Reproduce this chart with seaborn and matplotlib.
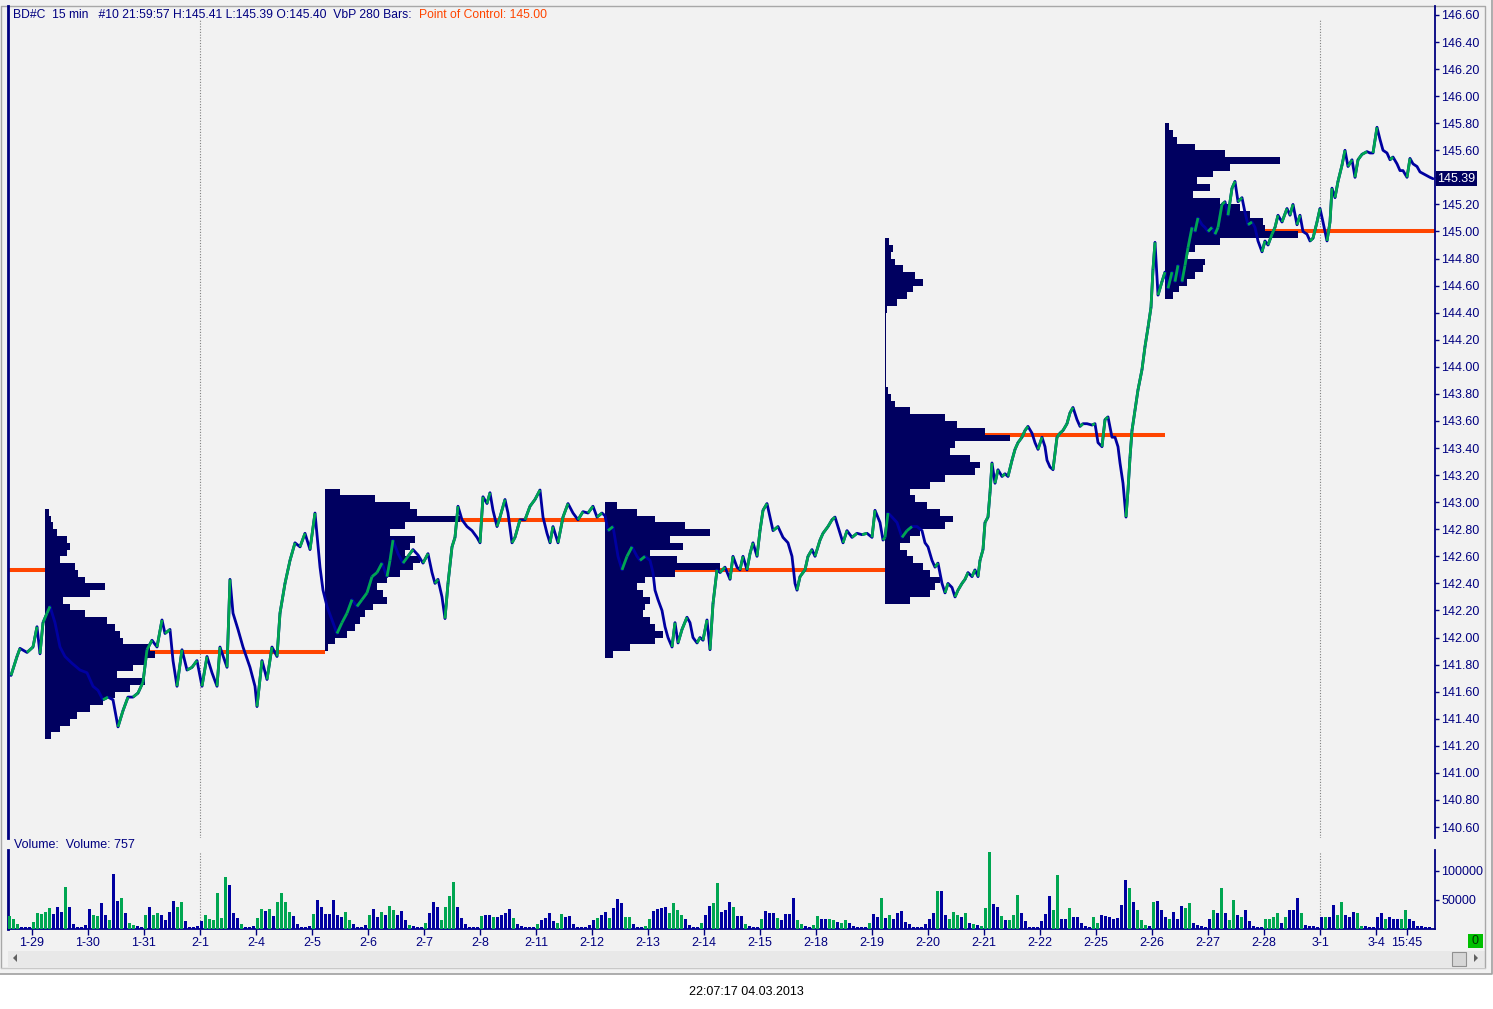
import numpy as np
import matplotlib
matplotlib.use("Agg")
import matplotlib.pyplot as plt
import matplotlib.transforms as mtransforms
from matplotlib.collections import LineCollection
from matplotlib.patches import Rectangle, Polygon
import seaborn as sns

# ---------------- data ----------------
header_text = "BD#C  15 min   #10 21:59:57 H:145.41 L:145.39 O:145.40  VbP 280 Bars:"
poc_text = "Point of Control: 145.00"
volume_text = "Volume:  Volume: 757"
stamp_text = "22:07:17 04.03.2013"
last_price = 145.39
last_label = "145.39"

day_labels = ["1-29", "1-30", "1-31", "2-1", "2-4", "2-5", "2-6", "2-7", "2-8",
              "2-11", "2-12", "2-13", "2-14", "2-15", "2-18", "2-19", "2-20",
              "2-21", "2-22", "2-25", "2-26", "2-27", "2-28", "3-1", "3-4"]
time_label = "15:45"

# 15-minute bar number -> close
price_bar = [3, 9, 12, 19, 25, 29, 32, 35, 39, 42, 47, 52, 57, 64, 72, 79, 85, 90, 95, 100,
             105, 110, 115, 120, 125, 130, 135, 139, 144, 149, 154, 157, 162, 165, 169, 174,
             179, 184, 189, 194, 199, 204, 209, 212, 219, 222, 225, 230, 235, 242, 247, 249,
             254, 259, 264, 269, 272, 277, 282, 287, 292, 297, 302, 307, 312, 315,
             319, 324, 329, 334, 339, 344, 349, 354, 359, 364, 369, 374, 379, 382, 385, 390,
             395, 400, 405, 410, 415, 420, 424, 427, 430, 434, 437, 440, 444, 447, 450, 454,
             459, 464, 469, 472, 475, 479, 482, 485, 489, 492, 497, 500, 504, 507, 512, 517,
             522, 527, 532, 535, 539, 542, 545, 550, 555, 560, 565, 570, 575, 580, 585, 589, 594,
             597, 600, 605, 610, 614, 619, 624, 629, 632, 637, 642, 645, 647, 650, 654, 657,
             660, 664, 667, 670, 674, 679, 682, 685, 689, 692, 695, 699, 702, 705, 709, 712,
             717, 722, 725, 729, 732, 735, 739, 742, 745, 749, 752, 755, 759, 762, 765, 770,
             775, 780, 784, 787, 789, 792, 797, 800, 804, 807, 812, 815, 820, 824, 827, 832,
             835, 839, 844, 849, 854, 859, 864, 867, 872, 875,
             877, 880, 884, 889, 894, 899, 904, 909, 914, 917, 920, 924, 927, 930, 934, 937,
             940, 944, 947, 950, 954, 957, 960, 964, 967, 970, 972, 975, 977, 980, 982, 984,
             987, 990, 994, 997, 1000, 1004, 1007, 1010, 1014, 1017, 1020, 1024, 1027, 1030,
             1034, 1037, 1039, 1042, 1045, 1049, 1052, 1055, 1059, 1062, 1065, 1069, 1072,
             1075, 1079, 1084, 1087, 1090, 1094, 1097, 1100, 1104, 1107, 1110, 1112, 1115,
             1118, 1120, 1122, 1124, 1127, 1130, 1134, 1137, 1140, 1143, 1145, 1147, 1150,
             1154, 1157, 1160, 1164, 1167, 1170, 1174, 1177, 1180, 1184, 1187, 1190, 1194,
             1197, 1200, 1204, 1207, 1210, 1214, 1217, 1220, 1224, 1227, 1230, 1234, 1237,
             1240, 1244, 1247, 1250, 1254, 1257, 1260, 1264, 1267, 1270, 1274, 1279, 1282,
             1285, 1289, 1292, 1295, 1299, 1302, 1305, 1309, 1312, 1315, 1319, 1322, 1324,
             1327, 1330, 1334, 1337, 1340, 1344, 1347, 1350, 1354, 1359, 1362, 1365, 1369,
             1372, 1375, 1379, 1382, 1385, 1389, 1392, 1395, 1399, 1402, 1405, 1409, 1412,
             1417, 1422, 1425]
price_close = [141.72, 141.86, 141.92, 141.89, 141.93, 142.08, 141.88, 142.11, 142.18, 142.23,
               142.11, 141.93, 141.86, 141.81, 141.76, 141.74, 141.64, 141.61, 141.54, 141.56,
               141.54, 141.34, 141.46, 141.56, 141.56, 141.59, 141.67, 141.91, 141.98, 141.93,
               142.13, 142.03, 142.06, 141.83, 141.64, 141.91, 141.76, 141.78, 141.83, 141.64,
               141.86, 141.74, 141.64, 141.93, 141.78, 142.43, 142.18, 142.06, 141.93, 141.78,
               141.64, 141.49, 141.83, 141.69, 141.93, 141.86, 142.18, 142.40, 142.57, 142.70,
               142.67, 142.77, 142.65, 142.92, 142.52, 142.35,
               142.23, 142.13, 142.03, 142.11, 142.18, 142.28, 142.23, 142.28, 142.33, 142.45,
               142.48, 142.55, 142.45, 142.57, 142.72, 142.62, 142.55, 142.60, 142.65, 142.61,
               142.55, 142.62, 142.48, 142.40, 142.43, 142.30, 142.14, 142.40, 142.67, 142.74,
               142.97, 142.87, 142.82, 142.79, 142.74, 142.70, 143.04, 142.99, 143.07, 142.94,
               142.82, 142.89, 143.02, 142.92, 142.70, 142.74, 142.87, 142.87, 142.97, 143.02,
               143.09, 142.89, 142.77, 142.70, 142.82, 142.70, 142.89, 142.99, 142.92, 142.87,
               142.93, 142.92, 142.97, 142.89, 142.92,
               142.90, 142.79, 142.82, 142.60, 142.50, 142.60, 142.67, 142.60, 142.57, 142.60,
               142.57, 142.48, 142.35, 142.28, 142.20, 142.08, 142.00, 141.93, 142.11, 141.96,
               142.06, 142.15, 142.11, 142.00, 141.96, 142.00, 141.98, 142.13, 141.91, 142.25,
               142.50, 142.48, 142.52, 142.43, 142.60, 142.52, 142.50, 142.60, 142.50, 142.62,
               142.70, 142.60, 142.79, 142.94, 142.99, 142.89, 142.79, 142.82, 142.74, 142.70,
               142.60, 142.40, 142.35, 142.45, 142.50, 142.60, 142.65, 142.60, 142.72, 142.77,
               142.82, 142.87, 142.89, 142.77, 142.70, 142.79, 142.74, 142.77, 142.76, 142.77,
               142.74, 142.94, 142.85, 142.72,
               142.74, 142.92, 142.89, 142.85, 142.74, 142.79, 142.82, 142.82, 142.79, 142.70,
               142.67, 142.57, 142.52, 142.55, 142.40, 142.33, 142.40, 142.37, 142.30, 142.35,
               142.40, 142.43, 142.48, 142.45, 142.50, 142.45, 142.57, 142.65, 142.85, 142.89,
               143.07, 143.29, 143.14, 143.24, 143.19, 143.21, 143.19, 143.31, 143.39, 143.44,
               143.48, 143.53, 143.56, 143.51, 143.44, 143.39, 143.48, 143.41, 143.31, 143.26,
               143.24, 143.48, 143.51, 143.53, 143.58, 143.66, 143.70, 143.61, 143.56, 143.58,
               143.58, 143.57, 143.58, 143.44, 143.41, 143.61, 143.63, 143.48, 143.48, 143.41,
               143.29, 143.14, 142.89, 143.09, 143.33, 143.53, 143.68, 143.83, 143.98, 144.15,
               144.29, 144.44, 144.72, 144.92, 144.53,
               144.63, 144.70, 144.58, 144.70, 144.63, 144.75, 144.63, 144.75, 144.88, 145.03,
               145.00, 145.10, 145.05, 145.03, 145.00, 145.03, 144.98, 145.03, 145.20, 145.22,
               145.12, 145.32, 145.37, 145.22, 145.25, 145.14, 145.05, 145.07, 145.03, 144.93,
               144.85, 144.93, 144.90, 144.98, 145.03, 145.12, 145.07, 145.17, 145.12, 145.20,
               145.05, 145.12, 145.00, 144.98, 144.93, 144.95, 145.07, 145.17, 145.07, 144.93,
               145.07, 145.32, 145.25, 145.37, 145.49, 145.60, 145.48, 145.53, 145.40, 145.53,
               145.57, 145.59, 145.58, 145.58, 145.77, 145.68, 145.60, 145.58, 145.53, 145.55,
               145.50, 145.45, 145.45, 145.40, 145.54, 145.50, 145.48, 145.44, 145.42, 145.40,
               145.39]

# volume in thousands, one value per 4 bars; g = up bar, b = down bar
volume_k = [22, 17, 9, 4, 3, 3, 12, 28, 26, 29, 36, 26, 38, 29,
            72, 38, 9, 3, 3, 7, 34, 24, 22, 45, 24, 15, 95, 48,
            53, 28, 10, 7, 6, 4, 24, 38, 24, 28, 24, 15, 29, 48,
            38, 46, 14, 4, 3, 5, 14, 24, 17, 15, 62, 19, 90, 76,
            28, 19, 9, 3, 3, 5, 19, 34, 31, 34, 22, 46, 62, 46,
            29, 22, 9, 3, 3, 5, 26, 50, 38, 26, 26, 50, 24, 21,
            29, 15, 9, 3, 3, 7, 24, 34, 21, 29, 24, 40, 33, 24,
            31, 15, 7, 5, 3, 3, 10, 28, 46, 38, 15, 38, 57, 81,
            38, 19, 9, 3, 3, 3, 22, 24, 24, 21, 21, 24, 27, 34,
            19, 8, 5, 3, 3, 3, 9, 15, 19, 27, 14, 10, 25, 21,
            23, 8, 3, 3, 3, 7, 15, 19, 24, 29, 19, 36, 52, 44,
            21, 21, 8, 4, 3, 5, 17, 31, 34, 37, 38, 27, 44, 33,
            24, 17, 7, 3, 3, 11, 24, 40, 44, 79, 30, 33, 46, 38,
            23, 23, 8, 5, 4, 3, 18, 31, 27, 27, 19, 15, 25, 25,
            54, 15, 8, 5, 4, 7, 22, 17, 18, 18, 15, 12, 11, 16,
            10, 6, 4, 3, 3, 10, 25, 21, 53, 19, 24, 18, 27, 31,
            12, 8, 4, 4, 4, 8, 17, 27, 66, 66, 24, 18, 30, 24,
            21, 27, 11, 8, 7, 6, 36, 133, 43, 38, 22, 15, 15, 24,
            59, 27, 13, 4, 3, 3, 13, 26, 57, 33, 93, 18, 18, 36,
            21, 20, 10, 5, 3, 20, 10, 24, 23, 20, 18, 19, 41, 85,
            70, 47, 33, 15, 7, 5, 47, 48, 33, 21, 18, 30, 18, 40,
            36, 45, 10, 7, 5, 4, 18, 32, 27, 70, 27, 15, 50, 24,
            21, 33, 14, 5, 4, 4, 17, 18, 20, 27, 10, 21, 32, 32,
            53, 27, 7, 5, 5, 4, 21, 21, 21, 41, 24, 47, 24, 21,
            30, 28, 5, 5, 4, 3, 20, 27, 17, 20, 17, 18, 18, 33,
            17, 13, 5, 5, 4, 4]
volume_dir = ("gggbbbgggggbbb" "gbbbbbbggbbgbb" "gbggbbgbggbbbb" "ggbbbbbggggggb"
              "bbgbbbggbgbggg" "gbbbbbgbbbbbbb" "ggbbbbgbbgbggb" "bbgbbbgbbbgggg"
              "bbbbbbgbbgbbbb" "gbbbbbgbbbbggb" "bbbbbbbgbbgbbb" "ggbbbggbbbbggg"
              "gbbbbgbbggbbbg" "bbgbbbgbbbgbbb" "bggbbggbbggbgg" "bbbbbgbbgbgbbb"
              "bbbbbbbbgbbggg" "bgbgbgggbbgbgg" "gbbbbbbbbggbbg" "bbbbbggbbbbbbb"
              "gbgggbgbbbgbbb" "ggbbbbbgbgbggb" "gbbbbbggggbgbb" "bgbbbbbgbbggbb"
              "bggbbbbbgbbbgg" "bbbbbb")

# volume-by-price profiles (280 bars each): top price, widths per 0.05 from the top down
vbp_tops = [142.95, 143.10, 143.00, 144.95, 145.80]
vbp_1 = [4, 6, 8, 12, 22, 25, 22, 15, 30, 33, 40, 60, 45, 18, 25, 40, 62, 70, 75, 78,
         105, 110, 100, 88, 72, 100, 85, 70, 58, 45, 32, 25, 15, 6]
vbp_2 = [15, 50, 85, 92, 135, 80, 65, 90, 85, 80, 95, 88, 75, 62, 52, 58, 62, 48, 40, 35,
         30, 22, 10, 3]
vbp_3 = [12, 32, 50, 80, 105, 65, 78, 45, 72, 115, 70, 40, 32, 38, 45, 40, 38, 45, 50, 58,
         50, 25, 8]
vbp_4 = [4, 8, 6, 10, 18, 30, 38, 28, 22, 12, 2, 1, 1, 1, 1, 1, 1, 1, 1, 1, 1, 1,
         3, 6, 10, 25, 60, 72, 100, 125, 70, 65, 85, 95, 90, 60, 45, 25, 30, 42, 55, 68,
         60, 35, 25, 15, 22, 28, 38, 45, 55, 50, 45, 25]
vbp_5 = [4, 8, 12, 30, 60, 115, 65, 48, 32, 45, 28, 55, 75, 85, 98, 100, 133, 55, 30, 22,
         40, 38, 30, 22, 14, 8]
vbp_widths = [vbp_1, vbp_2, vbp_3, vbp_4, vbp_5]
poc_prior = 142.50
poc_prices = [141.89, 142.87, 142.50, 143.50, 145.00]

# ---------------- layout / style ----------------
W, H = 1493, 1009
NAVY = "#000080"
PROFILE = "#000060"
DOWN = "#0000a0"
UP = "#00a651"
POC = "#ff4500"
BG = "#f2f2f2"
FONT = ["Liberation Sans", "DejaVu Sans"]

sns.set_style("white")
plt.rcParams["font.family"] = FONT

bars_per_day = 56
first_day_bar = 24
vbp_len = 280
vbp_first = 37
n_bars = 1427
vol_step = 4


def px_rect(x0, y0, x1, y1):
    return [x0 / W, 1 - y1 / H, (x1 - x0) / W, (y1 - y0) / H]


fig = plt.figure(figsize=(W / 100, H / 100), dpi=100, facecolor="white")

# window chrome drawn in pixel coordinates
bg = fig.add_axes([0, 0, 1, 1])
bg.set_xlim(0, W)
bg.set_ylim(H, 0)
bg.axis("off")
bg.add_patch(Rectangle((0, 0), 1492, 974, fc=BG, ec="none"))
bg.add_patch(Rectangle((8, 951), 1477, 16, fc="#e8e8e8", ec="none"))
bg.plot([0, 1492, 1492], [974, 974, 0], color="#a0a0a0", lw=1.2)
bg.plot([1, 1, 1485, 1485], [968, 6, 6, 968], color="#a8a8a8", lw=1)
bg.plot([1, 1485], [968, 968], color="#c8c8c8", lw=1)
bg.add_patch(Polygon([[13, 958], [17, 954], [17, 962]], closed=True, fc="#606060", ec="none"))
bg.add_patch(Rectangle((1452, 952), 14, 14, fc="#d6d6d6", ec="#909090", lw=0.8))
bg.add_patch(Polygon([[1478, 958], [1474, 954], [1474, 962]], closed=True, fc="#606060", ec="none"))
bg.add_patch(Rectangle((1468, 934), 15, 14, fc="#00c000", ec="none"))
bg.text(1475.5, 941, "0", ha="center", va="center", fontsize=9, color="#003300")
bg.text(13, 15, header_text, ha="left", va="center", fontsize=8.7, color=NAVY)
bg.text(419, 15, poc_text, ha="left", va="center", fontsize=8.7, color=POC)
bg.text(14, 845, volume_text, ha="left", va="center", fontsize=9, color=NAVY)
bg.text(746, 992, stamp_text, ha="center", va="center", fontsize=9, color="black")

ax = fig.add_axes(px_rect(8, 6, 1435, 838))
axv = fig.add_axes(px_rect(8, 850, 1435, 929), sharex=ax)
for a in (ax, axv):
    a.set_facecolor("none")
    for s in ("top", "bottom"):
        a.spines[s].set_visible(False)
    a.spines["left"].set_color(NAVY)
    a.spines["left"].set_linewidth(2)
    a.spines["right"].set_color(NAVY)
    a.spines["right"].set_linewidth(1.3)
    a.yaxis.tick_right()
    a.tick_params(axis="y", direction="out", length=3, width=1, color=NAVY,
                  labelcolor=NAVY, labelsize=9, pad=1.5)

# month separators
month_bars = [first_day_bar + bars_per_day * i for i, d in enumerate(day_labels) if d.endswith("-1")]
for mb in month_bars:
    ax.axvline(mb, ymin=0, ymax=0.983, color="#808080", lw=0.8, ls=(0, (1, 1.5)), zorder=1)
    axv.axvline(mb, ymin=0, ymax=0.97, color="#808080", lw=0.8, ls=(0, (1, 1.5)), zorder=1)

# point of control lines
ax.hlines(poc_prior, 0, vbp_first, color=POC, lw=2.9, zorder=2)
for j, poc in enumerate(poc_prices):
    x0 = vbp_first + vbp_len * j
    ax.hlines(poc, x0, min(x0 + vbp_len, n_bars), color=POC, lw=2.9, zorder=2)

# volume by price profiles
for j, (top, widths) in enumerate(zip(vbp_tops, vbp_widths)):
    bottoms = top - 0.05 * (np.arange(len(widths)) + 1)
    ax.barh(bottoms, widths, height=0.05, left=vbp_first + vbp_len * j, align="edge",
            color=PROFILE, edgecolor="none", zorder=3)

# price line: down moves navy (seaborn), up moves green on top
sns.lineplot(x=price_bar, y=price_close, ax=ax, color=DOWN, lw=2.0, zorder=4, sort=False)
pts = np.column_stack([price_bar, price_close])
segs = np.stack([pts[:-1], pts[1:]], axis=1)
ups = np.diff(price_close) > 0
ax.add_collection(LineCollection(segs[ups], colors=UP, linewidths=2.0, zorder=5))

ax.set_xlim(0, n_bars)
ax.set_ylim(140.519, 146.666)
yt = np.round(np.arange(140.6, 146.61, 0.2), 2)
ax.set_yticks(yt)
# the last-price marker sits over the 145.40 label
ax.set_yticklabels(["" if abs(v - last_price) < 0.05 else f"{v:.2f}" for v in yt])
ax.tick_params(axis="x", which="both", bottom=False, labelbottom=False)

trans = mtransforms.blended_transform_factory(ax.transAxes, ax.transData)
ax.text(1.0015, last_price, last_label, transform=trans, ha="left", va="center",
        fontsize=9, color="white", zorder=6,
        bbox=dict(boxstyle="square,pad=0.12", fc=PROFILE, ec="none"))

# volume bars
vol_x = np.arange(len(volume_k)) * vol_step
vol_colors = [UP if d == "g" else DOWN for d in volume_dir]
axv.bar(vol_x, np.array(volume_k) * 1000, width=3.4, align="edge", color=vol_colors,
        edgecolor="none", zorder=3)
axv.set_ylim(0, 136000)
axv.set_yticks([50000, 100000])
axv.set_yticklabels(["50000", "100000"])
axv.spines["bottom"].set_visible(True)
axv.spines["bottom"].set_color(NAVY)
axv.spines["bottom"].set_linewidth(1.3)

xt = [first_day_bar + bars_per_day * i for i in range(len(day_labels))]
xt.append(xt[-1] + 31)
axv.set_xticks(xt)
axv.set_xticklabels(day_labels + [time_label])
axv.tick_params(axis="x", bottom=True, direction="out", length=4, width=1, color=NAVY,
                labelcolor=NAVY, labelsize=9, pad=2)

fig.savefig("out.png", dpi=100, facecolor="white")
